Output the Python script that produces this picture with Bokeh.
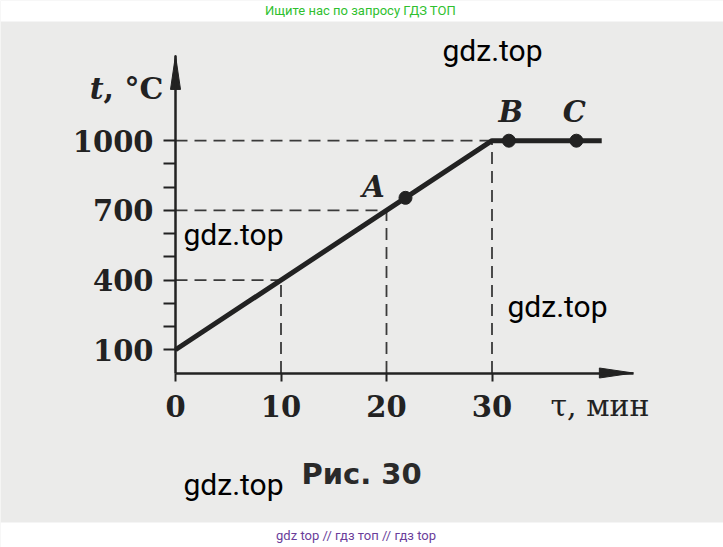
from bokeh.plotting import figure
from bokeh.models import Range1d, FixedTicker, BoxAnnotation, Label
from bokeh.embed import file_html
from bokeh.resources import INLINE

# Heating curve: temperature t (°C) against time τ (min)
time_min = [0, 30, 40.4]
temp_c = [100, 1000, 1000]

# Marked states on the curve
point_names = ["A", "B", "C"]
point_time = [21.8, 31.6, 38.0]
point_temp = [754, 1000, 1000]

# Dashed guides reading the curve back to both axes
guide_time = [10, 20, 30]
guide_temp = [400, 700, 1000]

# Axis ticks
x_ticks = [0, 10, 20, 30]
y_ticks = [100, 400, 700, 1000]
y_minor_ticks = [200, 300, 500, 600, 800, 900]

# Axis ends (where the arrow tips sit)
x_axis_end = 43.4
y_axis_end = 1367

# Canvas geometry: pixels per unit and origin position on the page
W, H = 723, 547
ORIGIN_X, ORIGIN_Y = 175.0, 372.5
PX_PER_MIN = 10.55
PX_PER_DEG = 0.2323


def xd(px):
    """Canvas x pixel -> minutes."""
    return (px - ORIGIN_X) / PX_PER_MIN


def yd(py):
    """Canvas y pixel (from top) -> degrees."""
    return (ORIGIN_Y - py) / PX_PER_DEG


INK = "#222222"
PAPER = "#ebebea"
SERIF = "DejaVu Serif"

p = figure(
    width=W, height=H,
    x_range=Range1d(xd(0), xd(W)),
    y_range=Range1d(yd(H), yd(0)),
    output_backend="svg", toolbar_location=None,
    min_border=0, outline_line_color=None,
    background_fill_color=PAPER, border_fill_color=PAPER,
)
p.grid.visible = False

# White page bands above and below the scanned sheet
p.add_layout(BoxAnnotation(bottom=yd(21), fill_color="white", fill_alpha=1, line_color=None))
p.add_layout(BoxAnnotation(top=yd(522), fill_color="white", fill_alpha=1, line_color=None))

# Axes crossing at the origin
xa = p.xaxis[0]
xa.fixed_location = 0
xa.bounds = (0, x_axis_end)
xa.ticker = FixedTicker(ticks=x_ticks, minor_ticks=[])
xa.axis_line_width = 2.5
xa.axis_line_color = INK
xa.major_tick_in = 0
xa.major_tick_out = 8
xa.major_tick_line_width = 2
xa.major_tick_line_color = INK
xa.minor_tick_line_color = None
xa.major_label_standoff = 14
xa.major_label_text_font = SERIF
xa.major_label_text_font_style = "bold"
xa.major_label_text_font_size = "29px"
xa.major_label_text_color = INK

ya = p.yaxis[0]
ya.fixed_location = 0
ya.bounds = (0, y_axis_end)
ya.ticker = FixedTicker(ticks=y_ticks, minor_ticks=y_minor_ticks)
ya.axis_line_width = 2.5
ya.axis_line_color = INK
ya.major_tick_in = 0
ya.major_tick_out = 12
ya.minor_tick_in = 0
ya.minor_tick_out = 12
ya.major_tick_line_width = 2
ya.minor_tick_line_width = 2
ya.major_tick_line_color = INK
ya.minor_tick_line_color = INK
ya.major_label_standoff = 10
ya.major_label_text_font = SERIF
ya.major_label_text_font_style = "bold"
ya.major_label_text_font_size = "29px"
ya.major_label_text_color = INK

# Arrow heads at the axis ends (long, narrow triangles)
HEAD_LEN, HEAD_HALF = 34, 5
p.patch([x_axis_end, x_axis_end - HEAD_LEN / PX_PER_MIN, x_axis_end - HEAD_LEN / PX_PER_MIN],
        [0, HEAD_HALF / PX_PER_DEG, -HEAD_HALF / PX_PER_DEG],
        fill_color=INK, line_color=INK, line_width=1)
p.patch([0, HEAD_HALF / PX_PER_MIN, -HEAD_HALF / PX_PER_MIN],
        [y_axis_end, y_axis_end - HEAD_LEN / PX_PER_DEG, y_axis_end - HEAD_LEN / PX_PER_DEG],
        fill_color=INK, line_color=INK, line_width=1)

# Dashed guides
zeros = [0] * len(guide_time)
p.segment(x0=zeros, y0=guide_temp, x1=guide_time, y1=guide_temp,
          line_color="#3a3a3a", line_width=1.8, line_dash="12 7")
p.segment(x0=guide_time, y0=zeros, x1=guide_time, y1=guide_temp,
          line_color="#3a3a3a", line_width=1.8, line_dash="12 7")

# The heating curve and its marked states
p.line(time_min, temp_c, line_color=INK, line_width=5, line_join="round")
p.scatter(point_time, point_temp, size=13, fill_color=INK, line_color=INK)

label_offsets = {"A": (-32, 11), "B": (2, 29), "C": (-2, 29)}
for name, tx, ty in zip(point_names, point_time, point_temp):
    dx, dy = label_offsets[name]
    p.add_layout(Label(x=tx, y=ty, x_offset=dx, y_offset=dy, text=name,
                       text_align="center", text_baseline="middle",
                       text_font=SERIF, text_font_style="bold italic",
                       text_font_size="29px", text_color=INK))

# Axis titles
serif = dict(text_font=SERIF, text_font_size="30px", text_color=INK,
             text_baseline="alphabetic")
p.add_layout(Label(x=xd(103), y=yd(88), text="t", text_align="right",
                   text_font_style="bold italic", **serif))
p.add_layout(Label(x=xd(103), y=yd(88), text=", °C", text_align="left",
                   text_font_style="bold", **serif))
p.add_layout(Label(x=xd(550), y=yd(405), text="τ, мин", text_align="left",
                   text_font_style="normal", **serif))

# Figure caption
p.add_layout(Label(x=xd(361), y=yd(473), text="Рис. 30", text_align="center",
                   text_baseline="alphabetic", text_font="DejaVu Sans",
                   text_font_style="bold", text_font_size="29px", text_color="#2a2a2a"))

# Site marks
for left, base in [(442, 50), (183, 234), (507, 306), (183, 484)]:
    p.add_layout(Label(x=xd(left), y=yd(base), text="gdz.top", text_align="left",
                       text_baseline="alphabetic", text_font="Roboto",
                       text_font_size="30px", text_color="black"))

p.add_layout(Label(x=xd(360), y=yd(10), text="Ищите нас по запросу ГДЗ ТОП",
                   text_align="center", text_baseline="alphabetic", text_font="Roboto",
                   text_font_size="13px", text_color="#2fbf2f"))
p.add_layout(Label(x=xd(362), y=yd(535), text="gdz top  //  гдз топ  //  гдз top",
                   text_align="center", text_baseline="alphabetic", text_font="Roboto",
                   text_font_size="13px", text_color="#6a3d9a"))

open("out.html", "w").write(file_html(p, INLINE))
